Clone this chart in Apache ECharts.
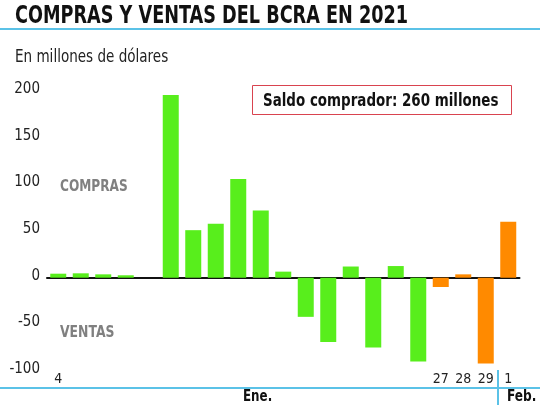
<!DOCTYPE html>
<html>
<head>
<meta charset="utf-8">
<script src="https://cdn.jsdelivr.net/npm/echarts@6/dist/echarts.min.js"></script>
<style>
html, body { margin: 0; padding: 0; background: #fff; }
#chart { width: 540px; height: 405px; }
</style>
</head>
<body>
<div id="chart"></div>
<script>
// días hábiles de enero 2021 y 1 de febrero
var dias = ['4', '5', '6', '7', '8', '11', '12', '13', '14', '15', '18', '19', '20', '21', '22', '25', '26', '27', '28', '29', '1']
// compras (+) y ventas (-) diarias, millones de dólares
var saldo = [4.3, 4.7, 3.6, 2.6, 0, 196, 51, 58, 106, 72, 6.5, -42, -69, 12, -75, 12.5, -90, -10, 3.6, -92, 60]
// días que llevan rótulo en el eje
var diasRotulados = ['4', '27', '28', '29', '1']
// desde este día las barras van en naranja
var diaNaranja = '27'
var yMin = -100
var yMax = 200
var yPaso = 50

var verde = '#58ee1c'
var naranja = '#ff8a00'
var celeste = '#5bc2e7'
var angosta = "'DejaVu Sans Condensed', sans-serif"
var idxNaranja = dias.indexOf(diaNaranja)

// texto angosto: se achica a lo ancho para parecerse a la tipografía condensada
function texto(x, y, t, size, bold, color, sx) {
    return {
        type: 'text', x: x, y: y, scaleX: sx,
        style: {
            text: t, fontSize: size, fontWeight: bold ? 'bold' : 'normal',
            fontFamily: angosta, fill: color, verticalAlign: 'middle'
        }
    }
}

var chart = echarts.init(document.getElementById('chart'))

var option = {
    animation: false,
    grid: { left: 47, right: 20.5, top: 91.3, bottom: 34.1, containLabel: false },
    xAxis: [
        {
            // línea del cero
            type: 'category',
            data: dias,
            axisLine: { onZero: true, lineStyle: { color: '#111', width: 2 } },
            axisTick: { show: false },
            axisLabel: { show: false }
        },
        {
            // rótulos de días abajo
            type: 'category',
            data: dias,
            position: 'bottom',
            axisLine: { show: false, onZero: false },
            axisTick: { show: false },
            axisLabel: {
                interval: 0,
                margin: 1,
                color: '#222',
                fontSize: 14,
                fontFamily: angosta,
                formatter: function (v) {
                    return diasRotulados.indexOf(v) >= 0 ? v : ''
                }
            }
        }
    ],
    yAxis: {
        type: 'value',
        min: yMin,
        max: yMax,
        interval: yPaso,
        axisLine: { show: false },
        axisTick: { show: false },
        splitLine: { show: false },
        axisLabel: {
            margin: 7,
            color: '#222',
            fontSize: 15,
            fontFamily: angosta,
            // los números quedan un poco por encima de su valor, como en el original
            verticalAlign: 'bottom',
            lineHeight: 4
        }
    },
    series: [
        {
            type: 'bar',
            xAxisIndex: 0,
            data: saldo,
            barWidth: 16,
            itemStyle: {
                color: function (p) {
                    return p.dataIndex >= idxNaranja ? naranja : verde
                }
            }
        }
    ],
    graphic: [
        { type: 'line', shape: { x1: 0, y1: 29, x2: 540, y2: 29 }, style: { stroke: celeste, lineWidth: 2 } },
        { type: 'line', shape: { x1: 0, y1: 388, x2: 540, y2: 388 }, style: { stroke: celeste, lineWidth: 2 } },
        { type: 'line', shape: { x1: 498, y1: 370, x2: 498, y2: 405 }, style: { stroke: celeste, lineWidth: 2 } },
        texto(15, 16, 'COMPRAS Y VENTAS DEL BCRA EN 2021', 25, true, '#111', 0.785),
        texto(15, 58, 'En millones de dólares', 17, false, '#222', 0.885),
        texto(60, 187, 'COMPRAS', 15, true, '#808080', 0.9),
        texto(60, 333, 'VENTAS', 15, true, '#808080', 0.92),
        {
            type: 'rect', shape: { x: 252.5, y: 85.5, width: 259, height: 29 },
            style: { fill: '#fff', stroke: '#d9434f', lineWidth: 1 }
        },
        texto(263, 101, 'Saldo comprador: 260 millones', 18, true, '#111', 0.83),
        texto(243, 397, 'Ene.', 15, true, '#111', 0.88),
        texto(507, 397, 'Feb.', 15, true, '#111', 0.9)
    ]
}

chart.setOption(option)
</script>
</body>
</html>
